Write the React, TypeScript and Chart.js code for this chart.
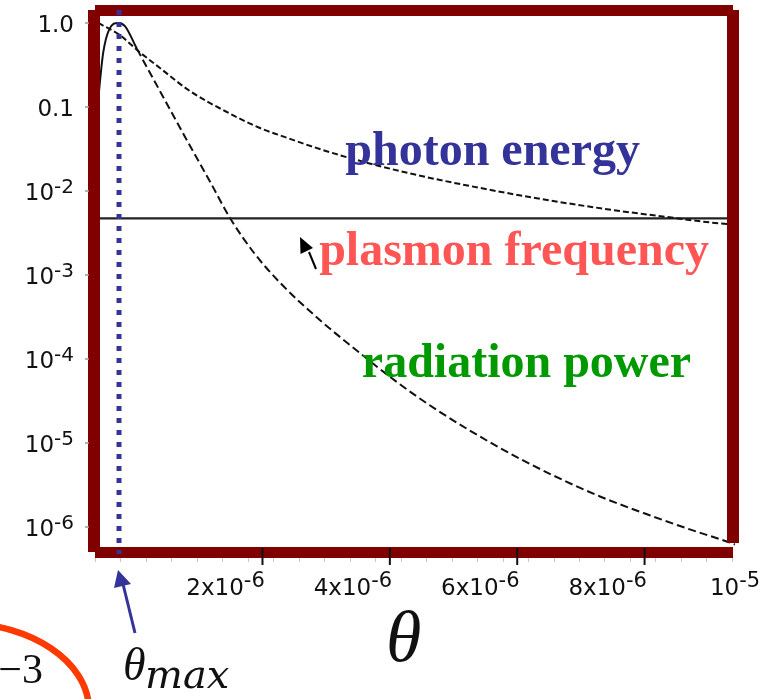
import React, { useEffect, useRef } from "react";
import { Chart, registerables } from "chart.js";

Chart.register(...registerables);

// ---------- data ----------
const radiationTheta = [0, 0.03e-6, 0.08e-6, 0.17e-6, 0.31e-6, 0.42e-6, 0.61e-6, 0.97e-6, 1.36e-6, 1.76e-6, 2.07e-6, 2.46e-6, 2.86e-6, 3.48e-6, 4.11e-6, 4.69e-6, 5.32e-6, 6.31e-6, 7.1e-6, 7.88e-6, 8.67e-6, 9.25e-6, 9.88e-6, 10.0e-6];
const radiationPower = [0.12, 0.21, 0.45, 0.83, 1.0, 0.92, 0.49, 0.155, 0.0445, 0.0128, 0.00477, 0.00178, 8.03e-4, 2.91e-4, 1.18e-4, 5.32e-5, 2.47e-5, 8.71e-6, 4.27e-6, 2.31e-6, 1.37e-6, 9.6e-7, 6.68e-7, 6.19e-7];
const radiationSolidUntil = 0.61e-6;

const photonTheta = [0, 0.34e-6, 0.61e-6, 0.97e-6, 1.44e-6, 1.99e-6, 2.54e-6, 2.86e-6, 3.48e-6, 4.06e-6, 4.94e-6, 6.0e-6, 7.05e-6, 8.08e-6, 8.87e-6, 9.88e-6, 10.0e-6];
const photonEnergy = [1.0, 0.72, 0.477, 0.291, 0.155, 0.0896, 0.0562, 0.0458, 0.0316, 0.0234, 0.0159, 0.01086, 0.00781, 0.00594, 0.00497, 0.00404, 0.00401];

const plasmonTheta = [0, 10.0e-6];
const plasmonFrequency = [0.00473, 0.00473];

const thetaMax = 0.327e-6;

// axis ticks
const xTickValues = [2e-6, 4e-6, 6e-6, 8e-6, 1e-5];
const xTickBase = ["2x10", "4x10", "6x10", "8x10", "10"];
const xTickExp = ["-6", "-6", "-6", "-6", "-5"];
const xTickMarkValues = [2.58e-6, 4.58e-6, 6.58e-6, 8.58e-6];

const yTickValues = [1, 0.1, 0.01, 1e-3, 1e-4, 1e-5, 1e-6];
const yTickBase = ["1.0", "0.1", "10", "10", "10", "10", "10"];
const yTickExp = ["", "", "-2", "-3", "-4", "-5", "-6"];

// curve labels (anchored in data coordinates: left edge / baseline)
const labelTexts = ["photon energy", "plasmon frequency", "radiation power"];
const labelColors = ["#333399", "#ff5555", "#009900"];
const labelTheta = [3.88e-6, 3.47e-6, 4.14e-6];
const labelValue = [0.0204, 1.315e-3, 6.1e-5];

const FRAME = "#800000";
const TICK_FONT = '"DejaVu Sans", sans-serif';

function drawSup(
  ctx: CanvasRenderingContext2D,
  base: string,
  exp: string,
  x: number,
  y: number,
  align: "right" | "center",
  baseSize: number,
  expSize: number,
  rise: number
) {
  ctx.font = `${baseSize}px ${TICK_FONT}`;
  const wb = ctx.measureText(base).width;
  ctx.font = `${expSize}px ${TICK_FONT}`;
  const we = exp ? ctx.measureText(exp).width : 0;
  const total = wb + we;
  const left = align === "right" ? x - total : x - total / 2;
  ctx.textAlign = "left";
  ctx.textBaseline = "alphabetic";
  ctx.font = `${baseSize}px ${TICK_FONT}`;
  ctx.fillText(base, left, y);
  if (exp) {
    ctx.font = `${expSize}px ${TICK_FONT}`;
    ctx.fillText(exp, left + wb, y - rise);
  }
}

const decorPlugin = {
  id: "decor",
  afterDraw(chart: any) {
    const ctx: CanvasRenderingContext2D = chart.ctx;
    const a = chart.chartArea;
    const xs = chart.scales.x;
    const ys = chart.scales.y;
    ctx.save();

    // frame
    ctx.fillStyle = FRAME;
    ctx.fillRect(a.left - 7, a.top, 12, a.bottom - a.top);
    ctx.fillRect(a.left, a.top - 5, a.right - 2 - a.left, 11);
    ctx.fillRect(a.right - 8, a.top, 12, a.bottom - 9 - a.top);
    ctx.fillRect(a.left, a.bottom - 5, a.right - 2 - a.left, 11);

    // theta max dotted line
    const px = xs.getPixelForValue(thetaMax);
    ctx.strokeStyle = "#333399";
    ctx.lineWidth = 5;
    ctx.setLineDash([5, 7]);
    ctx.beginPath();
    ctx.moveTo(px, a.top);
    ctx.lineTo(px, a.bottom + 2);
    ctx.stroke();
    ctx.setLineDash([]);

    // y tick marks + labels
    yTickValues.forEach((v, i) => {
      const py = ys.getPixelForValue(v);
      ctx.strokeStyle = "#999";
      ctx.lineWidth = 1.5;
      ctx.beginPath();
      ctx.moveTo(a.left - 10, py);
      ctx.lineTo(a.left - 6, py);
      ctx.stroke();
      ctx.fillStyle = "#111";
      drawSup(ctx, yTickBase[i], yTickExp[i], a.left - 21, py + 9, "right", 23, 20, 7);
    });

    // x minor ticks (faint)
    ctx.strokeStyle = "#c8c8c8";
    ctx.lineWidth = 1;
    for (let t = -0.05e-6; t <= 10e-6; t += 0.4e-6) {
      const p = Math.round(xs.getPixelForValue(t)) + 0.5;
      ctx.beginPath();
      ctx.moveTo(p, a.bottom + 6);
      ctx.lineTo(p, a.bottom + 10);
      ctx.stroke();
    }
    // x major tick marks
    ctx.strokeStyle = "#111";
    ctx.lineWidth = 2;
    xTickMarkValues.forEach((v) => {
      const p = xs.getPixelForValue(v);
      ctx.beginPath();
      ctx.moveTo(p, a.bottom - 4);
      ctx.lineTo(p, a.bottom + 13);
      ctx.stroke();
    });
    // x labels
    ctx.fillStyle = "#111";
    xTickValues.forEach((v, i) => {
      const p = xs.getPixelForValue(v);
      drawSup(ctx, xTickBase[i], xTickExp[i], p, a.bottom + 43, "center", 23, 21, 8);
    });

    // curve labels
    ctx.font = 'bold 48px "Liberation Serif", serif';
    ctx.textAlign = "left";
    ctx.textBaseline = "alphabetic";
    labelTexts.forEach((t, i) => {
      ctx.fillStyle = labelColors[i];
      ctx.fillText(t, xs.getPixelForValue(labelTheta[i]), ys.getPixelForValue(labelValue[i]));
    });

    // small black pointer arrow next to "plasmon frequency"
    ctx.fillStyle = "#000";
    ctx.strokeStyle = "#000";
    ctx.lineWidth = 2;
    ctx.beginPath();
    ctx.moveTo(309, 252);
    ctx.lineTo(316, 269);
    ctx.stroke();
    ctx.beginPath();
    ctx.moveTo(300, 237);
    ctx.lineTo(300.5, 254);
    ctx.lineTo(313, 248);
    ctx.closePath();
    ctx.fill();

    // blue arrow pointing at theta max
    ctx.strokeStyle = "#333399";
    ctx.fillStyle = "#333399";
    ctx.lineWidth = 3;
    ctx.beginPath();
    ctx.moveTo(123, 584);
    ctx.lineTo(135, 633);
    ctx.stroke();
    ctx.beginPath();
    ctx.moveTo(118, 570);
    ctx.lineTo(114, 588);
    ctx.lineTo(131, 584);
    ctx.closePath();
    ctx.fill();

    // theta_max label
    ctx.fillStyle = "#111";
    ctx.font = 'italic 46px "Liberation Serif", serif';
    ctx.fillText("θ", 123, 680);
    ctx.font = 'italic 40px "DejaVu Serif", serif';
    ctx.fillText("max", 145, 688);

    // big theta axis title
    ctx.font = 'italic 72px "Liberation Serif", serif';
    ctx.fillText("θ", 386, 661);

    // "−3" and red ellipse at bottom left
    ctx.font = '42px "Liberation Serif", serif';
    ctx.textAlign = "right";
    ctx.fillText("−3", 43, 683);
    ctx.strokeStyle = "#ff3a00";
    ctx.lineWidth = 6.5;
    ctx.beginPath();
    ctx.ellipse(-40, 710, 129, 87, 0, -Math.PI * 0.75, Math.PI * 0.3);
    ctx.stroke();

    ctx.restore();
  },
};

export default function App() {
  const ref = useRef<HTMLCanvasElement | null>(null);

  useEffect(() => {
    document.body.style.margin = "0";
    const canvas = ref.current;
    if (!canvas) return;
    const toPts = (xs: number[], ys: number[]) => xs.map((x, i) => ({ x, y: ys[i] }));
    const chart = new Chart(canvas, {
      type: "line",
      data: {
        datasets: [
          {
            label: "photon energy",
            data: toPts(photonTheta, photonEnergy),
            borderColor: "#111",
            borderWidth: 2,
            borderDash: [6, 3],
            pointRadius: 0,
            cubicInterpolationMode: "monotone",
            fill: false,
          },
          {
            label: "plasmon frequency",
            data: toPts(plasmonTheta, plasmonFrequency),
            borderColor: "#222",
            borderWidth: 2.2,
            pointRadius: 0,
            fill: false,
          },
          {
            label: "radiation power",
            data: toPts(radiationTheta, radiationPower),
            borderColor: "#111",
            borderWidth: 2,
            pointRadius: 0,
            cubicInterpolationMode: "monotone",
            fill: false,
            segment: {
              borderDash: (c: any) => (c.p0.parsed.x >= radiationSolidUntil ? [8, 4] : []),
            },
          },
        ],
      } as any,
      options: {
        responsive: false,
        animation: false,
        devicePixelRatio: 1,
        layout: { padding: { left: 95, right: 41, top: 10, bottom: 147 } },
        plugins: { legend: { display: false }, tooltip: { enabled: false } },
        scales: {
          x: { type: "linear", min: -0.05e-6, max: 10e-6, display: false },
          y: { type: "logarithmic", min: 5.04e-7, max: 1.428, display: false },
        },
      } as any,
      plugins: [decorPlugin],
    });
    return () => chart.destroy();
  }, []);

  return (
    <div style={{ position: "fixed", left: 0, top: 0, width: 776, height: 699, background: "#fff" }}>
      <canvas ref={ref} width={776} height={699} style={{ display: "block", width: 776, height: 699 }} />
    </div>
  );
}
